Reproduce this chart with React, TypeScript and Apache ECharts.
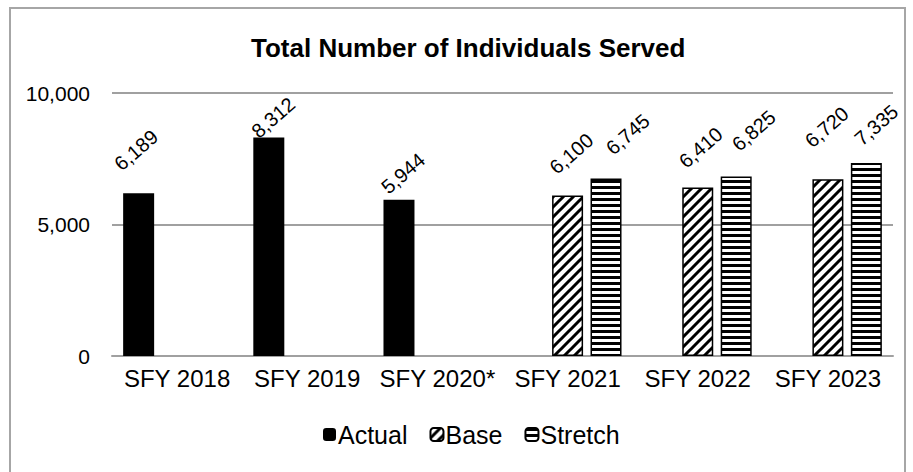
import React, { useEffect, useRef } from "react";
import * as echarts from "echarts";

const categories = ["SFY 2018", "SFY 2019", "SFY 2020*", "SFY 2021", "SFY 2022", "SFY 2023"];
const actualValues = [6189, 8312, 5944, null, null, null];
const baseValues = [null, null, null, 6100, 6410, 6720];
const stretchValues = [null, null, null, 6745, 6825, 7335];
const titleText = "Total Number of Individuals Served";

// label nudges (pixels) per series, per category — layout only
const actualLabelNudge = [[8, -13], [-2, 9], [2, 4], [0, 0], [0, 0], [0, 0]];
const baseLabelNudge = [[0, 0], [0, 0], [0, 0], [12, -8], [10, -7], [15, -19]];
const stretchLabelNudge = [[0, 0], [0, 0], [0, 0], [27, 2], [25, -2], [14, -1]];

function diagPattern() {
  const c = document.createElement("canvas");
  c.width = 10;
  c.height = 10;
  const ctx = c.getContext("2d")!;
  ctx.fillStyle = "#fff";
  ctx.fillRect(0, 0, 10, 10);
  ctx.strokeStyle = "#000";
  ctx.lineWidth = 3;
  ctx.beginPath();
  ctx.moveTo(-2, 12);
  ctx.lineTo(12, -2);
  ctx.moveTo(-2, 2);
  ctx.lineTo(2, -2);
  ctx.moveTo(8, 12);
  ctx.lineTo(12, 8);
  ctx.stroke();
  return c;
}

function horizPattern() {
  const c = document.createElement("canvas");
  c.width = 6;
  c.height = 6;
  const ctx = c.getContext("2d")!;
  ctx.fillStyle = "#fff";
  ctx.fillRect(0, 0, 6, 6);
  ctx.fillStyle = "#000";
  ctx.fillRect(0, 0, 6, 3);
  return c;
}

export default function App() {
  const ref = useRef<HTMLDivElement>(null);
  useEffect(() => {
    document.body.style.margin = "0";
    const chart = echarts.init(ref.current!, null, { renderer: "svg" });
    const font = "Liberation Sans, Arial, sans-serif";
    const label = {
      show: true,
      position: "top",
      distance: 28,
      rotate: 41,
      align: "center",
      verticalAlign: "middle",
      fontSize: 20,
      color: "#000",
      fontFamily: font,
      formatter: (p: any) => Number(p.value).toLocaleString("en-US"),
    };
    const withNudges = (values: (number | null)[], nudges: number[][]) =>
      values.map((v, i) =>
        v == null ? null : { value: v, label: { offset: nudges[i] } }
      );
    chart.setOption({
      animation: false,
      backgroundColor: "#fff",
      textStyle: { fontFamily: font },
      graphic: [
        {
          type: "rect",
          shape: { x: 10, y: 8, width: 895, height: 470 },
          style: { fill: "none", stroke: "#a6a6a6", lineWidth: 2 },
          silent: true,
        },
      ],
      title: {
        text: titleText,
        left: 246,
        top: 30,
        textStyle: { fontSize: 26, fontWeight: "bold", color: "#000", fontFamily: font },
      },
      legend: {
        bottom: 20,
        left: 318,
        itemWidth: 13,
        itemHeight: 13,
        itemGap: 22,
        textStyle: { fontSize: 25, color: "#000", fontFamily: font, padding: [0, 0, 0, -3] },
        data: ["Actual", "Base", "Stretch"],
      },
      grid: { left: 112, right: 20, top: 93, bottom: 116 },
      xAxis: {
        type: "category",
        data: categories,
        axisTick: { show: false },
        axisLine: { lineStyle: { color: "#a0a0a0", width: 2 } },
        axisLabel: { fontSize: 24, color: "#000", margin: 10, interval: 0, fontFamily: font },
      },
      yAxis: {
        type: "value",
        min: 0,
        max: 10000,
        interval: 5000,
        axisLine: { show: false },
        axisTick: { show: false },
        splitLine: { lineStyle: { color: "#a0a0a0", width: 2 } },
        axisLabel: {
          fontSize: 21,
          color: "#000",
          margin: 22,
          fontFamily: font,
          formatter: (v: number) => v.toLocaleString("en-US"),
        },
      },
      series: [
        {
          name: "Actual",
          type: "bar",
          data: withNudges(actualValues, actualLabelNudge),
          barWidth: 31,
          barGap: "24%",
          itemStyle: { color: "#000" },
          label,
        },
        {
          name: "Base",
          type: "bar",
          data: withNudges(baseValues, baseLabelNudge),
          barWidth: 31,
          barGap: "24%",
          itemStyle: {
            color: { image: diagPattern(), repeat: "repeat" },
            borderColor: "#000",
            borderWidth: 1.5,
          },
          label,
        },
        {
          name: "Stretch",
          type: "bar",
          data: withNudges(stretchValues, stretchLabelNudge),
          barWidth: 31,
          barGap: "24%",
          itemStyle: {
            color: { image: horizPattern(), repeat: "repeat" },
            borderColor: "#000",
            borderWidth: 1.5,
          },
          label,
        },
      ],
    });
    return () => chart.dispose();
  }, []);
  return <div ref={ref} style={{ width: 913, height: 472 }} />;
}
